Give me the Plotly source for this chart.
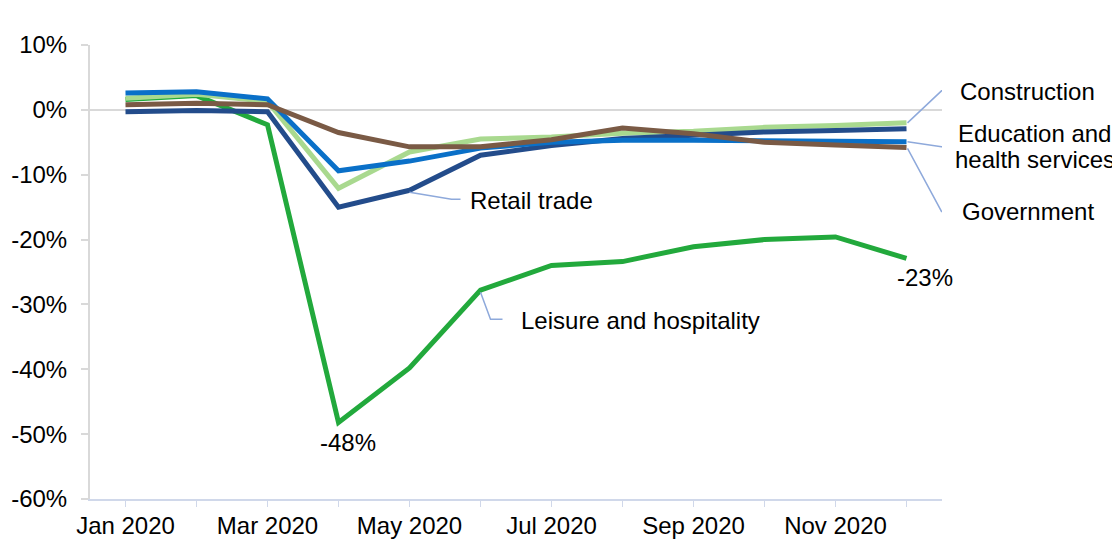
import plotly.graph_objects as go

# data (% change in employment vs Feb 2020)
months = ["Jan 2020", "Feb 2020", "Mar 2020", "Apr 2020", "May 2020", "Jun 2020",
          "Jul 2020", "Aug 2020", "Sep 2020", "Oct 2020", "Nov 2020", "Dec 2020"]
leisure = [1.6, 2.2, -2.3, -48.2, -39.8, -27.8, -24.0, -23.4, -21.1, -20.0, -19.6, -22.9]
construction = [1.8, 2.4, 1.3, -12.1, -6.5, -4.5, -4.2, -3.6, -3.3, -2.7, -2.4, -2.0]
retail = [-0.3, -0.1, -0.3, -15.0, -12.4, -7.0, -5.5, -4.4, -3.9, -3.4, -3.2, -2.9]
education = [2.6, 2.8, 1.7, -9.4, -7.9, -5.9, -5.0, -4.7, -4.7, -4.8, -4.8, -4.9]
government = [0.8, 1.0, 0.8, -3.5, -5.7, -5.7, -4.6, -2.8, -3.7, -5.0, -5.4, -5.8]

y_ticks = [-60, -50, -40, -30, -20, -10, 0, 10]
y_ticktext = ["-60%", "-50%", "-40%", "-30%", "-20%", "-10%", "0%", "10%"]
x_ticktext = [m if i % 2 == 0 else "" for i, m in enumerate(months)]

FONT = "Arial, 'Liberation Sans', sans-serif"
SIZE = 24
LEADER = "#8EA9DB"

series = [
    ("Leisure and hospitality", leisure, "#22A93C"),
    ("Construction", construction, "#A9D98F"),
    ("Retail trade", retail, "#234C8B"),
    ("Education and health services", education, "#0A70C8"),
    ("Government", government, "#7A5A45"),
]

fig = go.Figure()
for name, vals, color in series:
    fig.add_trace(go.Scatter(
        x=months, y=vals, name=name, mode="lines",
        line=dict(color=color, width=5), showlegend=False,
    ))

# labels: (text, month index, series, xshift, yshift, anchor)
labels = [
    ("Construction", 11, construction, 51, 31, "left"),
    ("Education and", 11, education, 128, 8, "center"),
    ("health services", 11, education, 128, -18, "center"),
    ("Government", 11, government, 53, -64, "left"),
    ("Retail trade", 4, retail, 58, -10, "left"),
    ("Leisure and hospitality", 5, leisure, 38, -30, "left"),
    ("-48%", 3, leisure, 9, -20, "center"),
    ("-23%", 11, leisure, 18, -19, "center"),
]
for text, i, vals, dx, dy, anchor in labels:
    fig.add_annotation(
        x=months[i], y=vals[i], text=text, showarrow=False,
        xanchor=anchor, yanchor="middle", xshift=dx, yshift=dy,
        font=dict(family=FONT, size=SIZE, color="#000000"),
    )

# leader lines, in pixels relative to the data point
leaders = [
    (11, construction, "M1,0 L35,32 L46,32"),
    (11, education, "M1,0 L35,-5 L41,-5"),
    (11, government, "M1,-1 L35,-64 L46,-64"),
    (4, retail, "M0,-2 L42,-9 L51,-9"),
    (5, leisure, "M0,-2 L10,-29 L22,-29"),
]
for i, vals, path in leaders:
    fig.add_shape(
        type="path", xref="x", yref="y", xsizemode="pixel", ysizemode="pixel",
        xanchor=months[i], yanchor=vals[i], path=path,
        line=dict(color=LEADER, width=1.5),
    )

# page body has an 8px margin, so the figure is 8px smaller and margins shifted
fig.update_layout(
    width=1112, height=531,
    margin=dict(l=82, r=178, t=37, b=40),
    plot_bgcolor="#FFFFFF", paper_bgcolor="#FFFFFF",
    font=dict(family=FONT, size=SIZE, color="#000000"),
)
fig.update_xaxes(
    type="category", range=[-0.5, 11.5], automargin=False,
    tickmode="array", tickvals=months, ticktext=x_ticktext,
    showgrid=False, zeroline=False,
    showline=True, linecolor="#D0D8EA", linewidth=2,
    ticks="outside", ticklen=6, tickcolor="#D0D8EA", tickwidth=1,
    ticklabelstandoff=-2,
    tickfont=dict(family=FONT, size=SIZE, color="#000000"),
)
fig.update_yaxes(
    range=[-60, 10], automargin=False,
    tickmode="array", tickvals=y_ticks, ticktext=y_ticktext,
    showgrid=False, zeroline=True, zerolinecolor="#D9D9D9", zerolinewidth=2,
    showline=True, linecolor="#D9D9D9", linewidth=2,
    ticks="outside", ticklen=7, tickcolor="#D9D9D9", tickwidth=2,
    ticklabelstandoff=9,
    tickfont=dict(family=FONT, size=SIZE, color="#000000"),
)

fig.write_html("out.html")
